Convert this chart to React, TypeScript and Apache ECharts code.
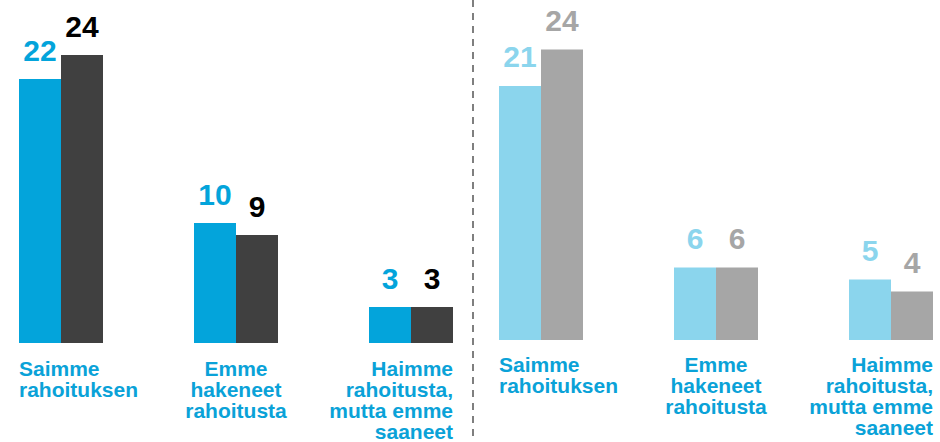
import React, { useEffect, useRef } from "react";
import * as echarts from "echarts";

const categories = [
  "Saimme\nrahoituksen",
  "Emme\nhakeneet\nrahoitusta",
  "Haimme\nrahoitusta,\nmutta emme\nsaaneet",
];
const leftSeriesA = [22, 10, 3];
const leftSeriesB = [24, 9, 3];
const rightSeriesA = [21, 6, 5];
const rightSeriesB = [24, 6, 4];
const labelAligns = ["left", "center", "right"];

const FONT = "'Liberation Sans', Arial, sans-serif";
const BLUE = "#03A4DB";
const DARK = "#404040";
const LIGHT_BLUE = "#8BD5ED";
const GRAY = "#A6A6A6";
const CAT_COLOR = "#0AA2D8";

export default function App() {
  const ref = useRef<HTMLDivElement>(null);

  useEffect(() => {
    if (!ref.current) return;
    const chart = echarts.init(ref.current, undefined, { renderer: "svg" });

    const labelAxisData = categories.map((c, i) => ({
      value: c,
      textStyle: { align: labelAligns[i] },
    }));

    const barXAxis = (gridIndex: number) => ({
      type: "category",
      gridIndex,
      data: categories,
      boundaryGap: false,
      axisLine: { show: false },
      axisTick: { show: false },
      axisLabel: { show: false },
      splitLine: { show: false },
    });

    const labelXAxis = (gridIndex: number, margin: number) => ({
      type: "category",
      gridIndex,
      data: labelAxisData,
      boundaryGap: false,
      axisLine: { show: false },
      axisTick: { show: false },
      splitLine: { show: false },
      axisLabel: {
        interval: 0,
        margin,
        color: CAT_COLOR,
        fontFamily: FONT,
        fontWeight: "bold",
        fontSize: 21,
        lineHeight: 21,
      },
    });

    const yAxis = (gridIndex: number) => ({
      type: "value",
      gridIndex,
      min: 0,
      max: 25,
      show: false,
    });

    const barSeries = (
      name: string,
      data: number[],
      color: string,
      labelColor: string,
      axisIndex: number
    ) => ({
      name,
      type: "bar",
      xAxisIndex: axisIndex,
      yAxisIndex: axisIndex,
      data,
      barWidth: 42,
      barGap: "0%",
      itemStyle: { color },
      label: {
        show: true,
        position: "top",
        distance: 14,
        color: labelColor,
        fontFamily: FONT,
        fontWeight: "bold",
        fontSize: 30,
        textBorderWidth: 0,
        textBorderColor: "transparent",
      },
    });

    chart.setOption({
      animation: false,
      backgroundColor: "#ffffff",
      grid: [
        { left: 61, width: 350, top: 43, height: 300 },
        { left: 541, width: 350, top: 37.5, height: 302.5 },
        { left: 19, width: 434, top: 43, height: 300 },
        { left: 499, width: 434, top: 37.5, height: 302.5 },
      ],
      xAxis: [barXAxis(0), barXAxis(1), labelXAxis(2, 19), labelXAxis(3, 14)],
      yAxis: [yAxis(0), yAxis(1), yAxis(2), yAxis(3)],
      series: [
        barSeries("Vasen A", leftSeriesA, BLUE, BLUE, 0),
        barSeries("Vasen B", leftSeriesB, DARK, "#000000", 0),
        barSeries("Oikea A", rightSeriesA, LIGHT_BLUE, LIGHT_BLUE, 1),
        barSeries("Oikea B", rightSeriesB, GRAY, GRAY, 1),
      ],
      graphic: [
        {
          type: "line",
          shape: { x1: 473, y1: 0, x2: 473, y2: 442 },
          style: { stroke: "#7F7F7F", lineWidth: 2, lineDash: [7, 6] },
          silent: true,
        },
      ],
    });

    return () => chart.dispose();
  }, []);

  return (
    <div
      ref={ref}
      style={{ position: "fixed", left: 0, top: 0, width: 940, height: 442 }}
    />
  );
}
